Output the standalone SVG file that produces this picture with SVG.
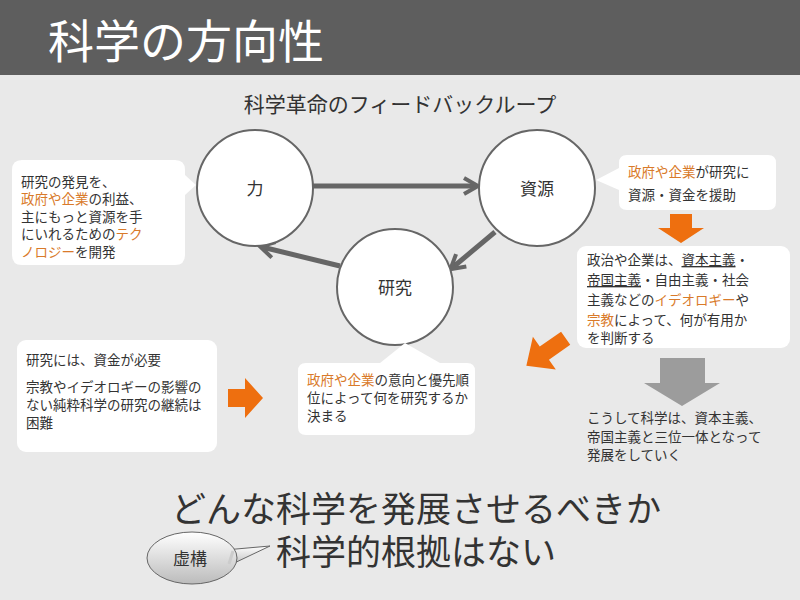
<svg xmlns="http://www.w3.org/2000/svg" width="800" height="600" viewBox="0 0 800 600">
<defs>
<style>
text{font-family:"Noto Sans CJK JP","Noto Sans",sans-serif;fill:#333}
.s{font-size:13.5px}
.o{fill:#d97a2a}
.box{fill:#fff}
.node{fill:#fff;stroke:#666;stroke-width:2}
.con{stroke:#666;stroke-width:5;fill:none;marker-end:url(#ah)}
.oa{fill:#ee6f0f}
</style>
<marker id="ah" viewBox="0 0 10 10" refX="7" refY="5" markerWidth="4" markerHeight="4" orient="auto" markerUnits="strokeWidth"><path d="M1,1 L8,5 L1,9" fill="none" stroke="#666" stroke-width="2"/></marker>
<linearGradient id="g" x1="0" y1="0" x2="0" y2="1"><stop offset="0" stop-color="#fff"/><stop offset="1" stop-color="#bbb"/></linearGradient>
</defs>
<rect width="800" height="600" fill="#e9e9e9"/>
<rect width="800" height="75" fill="#5e5e5e"/>
<text x="48" y="58" style="font-size:46px;fill:#fff">科学の方向性</text>
<text x="400" y="112" text-anchor="middle" style="font-size:21px">科学革命のフィードバックループ</text>

<g id="connectors">
<line class="con" x1="313" y1="186" x2="476" y2="186"/>
<line class="con" x1="495" y1="232" x2="452" y2="268"/>
<line class="con" x1="340" y1="266" x2="262" y2="247"/>
</g>

<g id="n-chikara"><circle class="node" cx="255" cy="188" r="58"/><text x="255" y="195" text-anchor="middle" style="font-size:17px">力</text></g>
<g id="n-shigen"><circle class="node" cx="537" cy="188" r="58"/><text x="537" y="195" text-anchor="middle" style="font-size:17px">資源</text></g>
<g id="n-kenkyu"><circle class="node" cx="395" cy="287" r="58"/><text x="395" y="294" text-anchor="middle" style="font-size:17px">研究</text></g>

<g id="callout-left">
<path class="box" d="M22,160 H175 Q185,160 185,170 V175 L196,185 L185,195 V255 Q185,265 175,265 H22 Q12,265 12,255 V170 Q12,160 22,160Z"/>
<text class="s" x="21" y="187">研究の発見を、</text>
<text class="s" x="21" y="204"><tspan class="o">政府や企業</tspan>の利益、</text>
<text class="s" x="21" y="222">主にもっと資源を手</text>
<text class="s" x="21" y="239">にいれるための<tspan class="o">テク</tspan></text>
<text class="s" x="21" y="257"><tspan class="o">ノロジー</tspan>を開発</text>
</g>

<g id="callout-right">
<path class="box" d="M627,155 H768 Q776,155 776,163 V202 Q776,210 768,210 H627 Q619,210 619,202 V190 L596,180 L619,168 V163 Q619,155 627,155Z"/>
<text class="s" x="628" y="177"><tspan class="o">政府や企業</tspan>が研究に</text>
<text class="s" x="628" y="200">資源・資金を援助</text>
</g>
<path class="oa" d="M670,214 H692 V228 H704 L681,243 L658,228 H670Z"/>

<g id="box-ideology">
<rect class="box" x="577" y="246" width="213" height="102" rx="9"/>
<text class="s" x="587" y="265">政治や企業は、<tspan text-decoration="underline">資本主義</tspan>・</text>
<text class="s" x="587" y="285"><tspan text-decoration="underline">帝国主義</tspan>・自由主義・社会</text>
<text class="s" x="587" y="305">主義などの<tspan class="o">イデオロギー</tspan>や</text>
<text class="s" x="587" y="325"><tspan class="o">宗教</tspan>によって、何が有用か</text>
<text class="s" x="587" y="343">を判断する</text>
</g>
<path d="M660,358 H705 V383 H720 L682,406 L644,383 H660Z" fill="#9c9c9c"/>
<g id="text-conclusion">
<text class="s" x="587" y="423">こうして科学は、資本主義、</text>
<text class="s" x="587" y="442">帝国主義と三位一体となって</text>
<text class="s" x="587" y="460">発展をしていく</text>
</g>
<path class="oa" d="M-24,-8 H2 V-20 L24,0 L2,20 V8 H-24Z" transform="translate(546,352) rotate(145)"/>

<g id="box-funding">
<rect class="box" x="17" y="340" width="200" height="112" rx="9"/>
<text class="s" x="26" y="365">研究には、資金が必要</text>
<text class="s" x="26" y="392">宗教やイデオロギーの影響の</text>
<text class="s" x="26" y="410">ない純粋科学の研究の継続は</text>
<text class="s" x="26" y="428">困難</text>
</g>
<path class="oa" d="M228,389 H245 V378 L263,398 L245,418 V407 H228Z"/>

<g id="callout-mid">
<path class="box" d="M306,363 H380 L405,343 L440,363 H467 Q475,363 475,371 V427 Q475,435 467,435 H306 Q298,435 298,427 V371 Q298,363 306,363Z"/>
<text class="s" x="307" y="385"><tspan class="o">政府や企業</tspan>の意向と優先順</text>
<text class="s" x="307" y="403">位によって何を研究するか</text>
<text class="s" x="307" y="421">決まる</text>
</g>

<text x="416" y="522" text-anchor="middle" style="font-size:35px">どんな科学を発展させるべきか</text>
<text x="416" y="565" text-anchor="middle" style="font-size:35px">科学的根拠はない</text>
<g id="n-kyoko">
<path d="M225,550 L270,546 L228,566Z" fill="url(#g)" stroke="#666" stroke-width="1"/>
<ellipse cx="192" cy="558" rx="45" ry="26" fill="url(#g)" stroke="#666" stroke-width="1"/>
<path d="M233,551 L229,564" stroke="#ccc" stroke-width="3"/>
<text x="190" y="565" text-anchor="middle" style="font-size:17px">虚構</text>
</g>
</svg>
